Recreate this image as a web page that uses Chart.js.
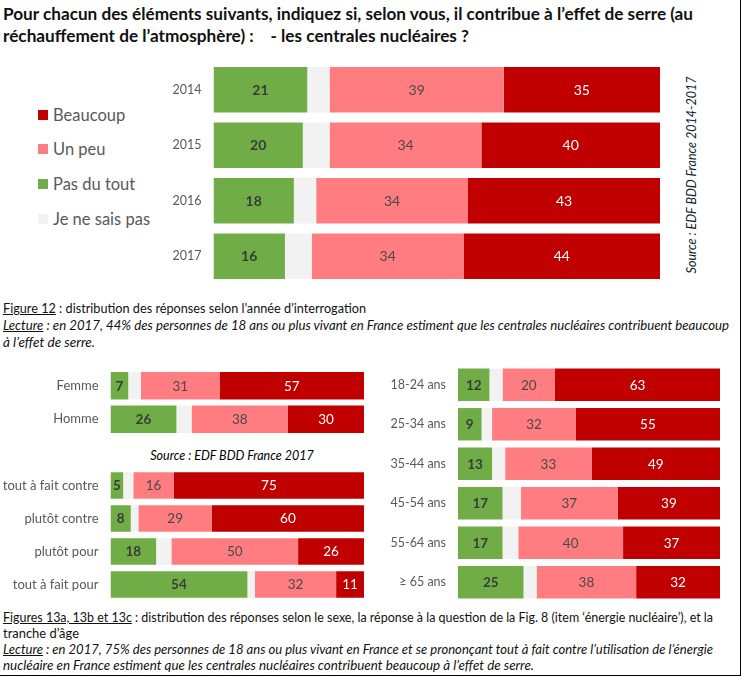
<!DOCTYPE html>
<html>
<head>
<meta charset="utf-8">
<script src="https://cdn.jsdelivr.net/npm/chart.js@4.4.1/dist/chart.umd.min.js"></script>
<style>
  body { margin: 0; background: #fff; font-family: Lato, sans-serif; color: #111; }
  #page { position: relative; width: 744px; height: 681px; overflow: hidden; }
  #page canvas, .abs { position: absolute; }
  .ln { display: block; white-space: nowrap; }
  .ln span.fit { display: inline-block; transform-origin: 0 50%; }
  #frame { position: absolute; left: 0; top: -2px; width: 740px; height: 677px;
           border-right: 1.5px solid #000; border-bottom: 1.5px solid #000; }
  #title { left: 3px; top: 3px; font-weight: bold; font-size: 17px; line-height: 22px; }
  .cap { left: 3px; font-size: 13.5px; }
  #cap1 { top: 300px; line-height: 17px; }
  #cap2 { top: 609px; line-height: 16px; }
  .legend-item { position: absolute; left: 38px; height: 20px; font-size: 16.5px; color: #595959; }
  .legend-item i { position: absolute; left: 0; top: 5px; width: 10px; height: 10px; }
  .legend-item b { position: absolute; left: 15px; top: 0; font-weight: normal; white-space: nowrap; line-height: 20px; }
  #src1 { left: 691px; top: 175px; font-size: 12.5px; font-style: italic; color: #14242e;
          transform: translate(-50%, -50%) rotate(-90deg); white-space: nowrap; }
  #src2 { left: 232px; top: 455px; font-size: 12.5px; font-style: italic; color: #000;
          transform: translate(-50%, -50%); white-space: nowrap; }
</style>
</head>
<body>
<div id="page">
  <div id="frame"></div>

  <div id="title" class="abs">
    <span class="ln"><span class="fit" data-w="690">Pour chacun des éléments suivants, indiquez si, selon vous, il contribue à l’effet de serre (au</span></span>
    <span class="ln"><span class="fit" data-w="466">réchauffement de l’atmosphère) :&nbsp;&nbsp;&nbsp; - les centrales nucléaires ?</span></span>
  </div>

  <div id="legend"></div>
  <div id="src1" class="abs">Source : EDF BDD France 2014-2017</div>
  <canvas id="yearChart" width="530" height="222" style="left:130px;top:62px;width:530px;height:222px"></canvas>

  <div id="cap1" class="abs cap">
    <span class="ln"><span class="fit" data-w="363"><u>Figure 12</u> : distribution des réponses selon l’année d’interrogation</span></span>
    <span class="ln"><span class="fit" data-w="726"><i><u>Lecture</u> : en 2017, 44% des personnes de 18 ans ou plus vivant en France estiment que les centrales nucléaires contribuent beaucoup</i></span></span>
    <span class="ln"><span class="fit" data-w="92"><i>à l’effet de serre.</i></span></span>
  </div>

  <canvas id="sexChart" width="364" height="67" style="left:0;top:369px;width:364px;height:67px"></canvas>
  <div id="src2" class="abs">Source : EDF BDD France 2017</div>
  <canvas id="opinionChart" width="364" height="132" style="left:0;top:469px;width:364px;height:132px"></canvas>
  <canvas id="ageChart" width="348" height="237" style="left:372px;top:365px;width:348px;height:237px"></canvas>

  <div id="cap2" class="abs cap">
    <span class="ln"><span class="fit" data-w="710"><u>Figures 13a, 13b et 13c</u> : distribution des réponses selon le sexe, la réponse à la question de la Fig. 8 (item ‘énergie nucléaire’), et la</span></span>
    <span class="ln"><span class="fit" data-w="76">tranche d’âge</span></span>
    <span class="ln"><span class="fit" data-w="710"><i><u>Lecture</u> : en 2017, 75% des personnes de 18 ans ou plus vivant en France et se prononçant tout à fait contre l’utilisation de l’énergie</i></span></span>
    <span class="ln"><span class="fit" data-w="531"><i>nucléaire en France estiment que les centrales nucléaires contribuent beaucoup à l’effet de serre.</i></span></span>
  </div>
</div>

<script>
// séries (ordre d'empilement)
const seriesNames = ['Pas du tout', 'Je ne sais pas', 'Un peu', 'Beaucoup'];
const seriesColors = ['#70AD47', '#F2F2F2', '#FF7C80', '#C00000'];
const legendOrder = ['Beaucoup', 'Un peu', 'Pas du tout', 'Je ne sais pas'];

// Figure 12 : par année
const years = ['2014', '2015', '2016', '2017'];
const yearPasDuTout = [21, 20, 18, 16];
const yearNeSaisPas = [5, 6, 5, 6];
const yearUnPeu = [39, 34, 34, 34];
const yearBeaucoup = [35, 40, 43, 44];

// Figure 13a : par sexe
const sexes = ['Femme', 'Homme'];
const sexPasDuTout = [7, 26];
const sexNeSaisPas = [5, 6];
const sexUnPeu = [31, 38];
const sexBeaucoup = [57, 30];

// Figure 13b : opinion sur l'énergie nucléaire
const opinions = ['tout à fait contre', 'plutôt contre', 'plutôt pour', 'tout à fait pour'];
const opPasDuTout = [5, 8, 18, 54];
const opNeSaisPas = [4, 3, 6, 3];
const opUnPeu = [16, 29, 50, 32];
const opBeaucoup = [75, 60, 26, 11];

// Figure 13c : tranche d'âge
const ages = ['18-24 ans', '25-34 ans', '35-44 ans', '45-54 ans', '55-64 ans', '≥ 65 ans'];
const agePasDuTout = [12, 9, 13, 17, 17, 25];
const ageNeSaisPas = [5, 4, 5, 7, 6, 5];
const ageUnPeu = [20, 32, 33, 37, 40, 38];
const ageBeaucoup = [63, 55, 49, 39, 37, 32];

// style des étiquettes de valeur par série
const labelStyles = [
  { color: '#3a3a3a', weight: 'bold' },
  null,
  { color: '#4a4a4a', weight: 'normal' },
  { color: '#ffffff', weight: 'normal' }
];

const valueLabels = {
  id: 'valueLabels',
  afterDatasetsDraw(chart, args, opts) {
    const ctx = chart.ctx;
    chart.data.datasets.forEach((ds, i) => {
      const st = labelStyles[i];
      if (!st) return;
      ctx.save();
      ctx.fillStyle = st.color;
      ctx.font = st.weight + ' ' + opts.size + 'px Lato';
      ctx.textAlign = 'center';
      ctx.textBaseline = 'middle';
      chart.getDatasetMeta(i).data.forEach((bar, j) => {
        ctx.fillText(ds.data[j], (bar.x + bar.base) / 2, bar.y + 0.5);
      });
      ctx.restore();
    });
  }
};

function stackedBars(id, labels, values, o) {
  new Chart(document.getElementById(id), {
    type: 'bar',
    data: {
      labels: labels,
      datasets: values.map((v, i) => ({
        label: seriesNames[i],
        data: v,
        backgroundColor: seriesColors[i],
        borderWidth: 0,
        categoryPercentage: 1,
        barPercentage: o.bar
      }))
    },
    options: {
      indexAxis: 'y',
      responsive: false,
      animation: false,
      layout: { padding: 0 },
      plugins: {
        legend: { display: false },
        tooltip: { enabled: false },
        valueLabels: { size: o.valueSize }
      },
      scales: {
        x: { stacked: true, min: 0, max: 100, display: false },
        y: {
          stacked: true,
          grid: { display: false, drawTicks: false },
          border: { display: false },
          ticks: { color: '#595959', padding: 12, font: { family: 'Lato', size: o.tickSize } },
          afterFit(scale) {
            scale.width = o.axisWidth;
            scale.paddingTop = 0;
            scale.paddingBottom = 0;
          }
        }
      }
    },
    plugins: [valueLabels]
  });
}

stackedBars('yearChart', years, [yearPasDuTout, yearNeSaisPas, yearUnPeu, yearBeaucoup],
  { bar: 0.82, axisWidth: 83.5, tickSize: 12.5, valueSize: 14 });
stackedBars('sexChart', sexes, [sexPasDuTout, sexNeSaisPas, sexUnPeu, sexBeaucoup],
  { bar: 0.82, axisWidth: 110.5, tickSize: 13, valueSize: 13.5 });
stackedBars('opinionChart', opinions, [opPasDuTout, opNeSaisPas, opUnPeu, opBeaucoup],
  { bar: 0.8, axisWidth: 110.5, tickSize: 13, valueSize: 13.5 });
stackedBars('ageChart', ages, [agePasDuTout, ageNeSaisPas, ageUnPeu, ageBeaucoup],
  { bar: 0.82, axisWidth: 86, tickSize: 12.5, valueSize: 13.5 });

// légende de la figure 12
const legendTops = [105, 139, 174, 209];
const legend = document.getElementById('legend');
legendOrder.forEach((name, k) => {
  const item = document.createElement('div');
  item.className = 'legend-item';
  item.style.top = legendTops[k] + 'px';
  item.innerHTML = '<i style="background:' + seriesColors[seriesNames.indexOf(name)] + '"></i><b>' + name + '</b>';
  legend.appendChild(item);
});

// ajuste la largeur des lignes de texte (police Calibri absente)
document.querySelectorAll('.fit').forEach(el => {
  const w = el.getBoundingClientRect().width;
  el.style.transform = 'scaleX(' + (Number(el.dataset.w) / w) + ')';
});
</script>
</body>
</html>
